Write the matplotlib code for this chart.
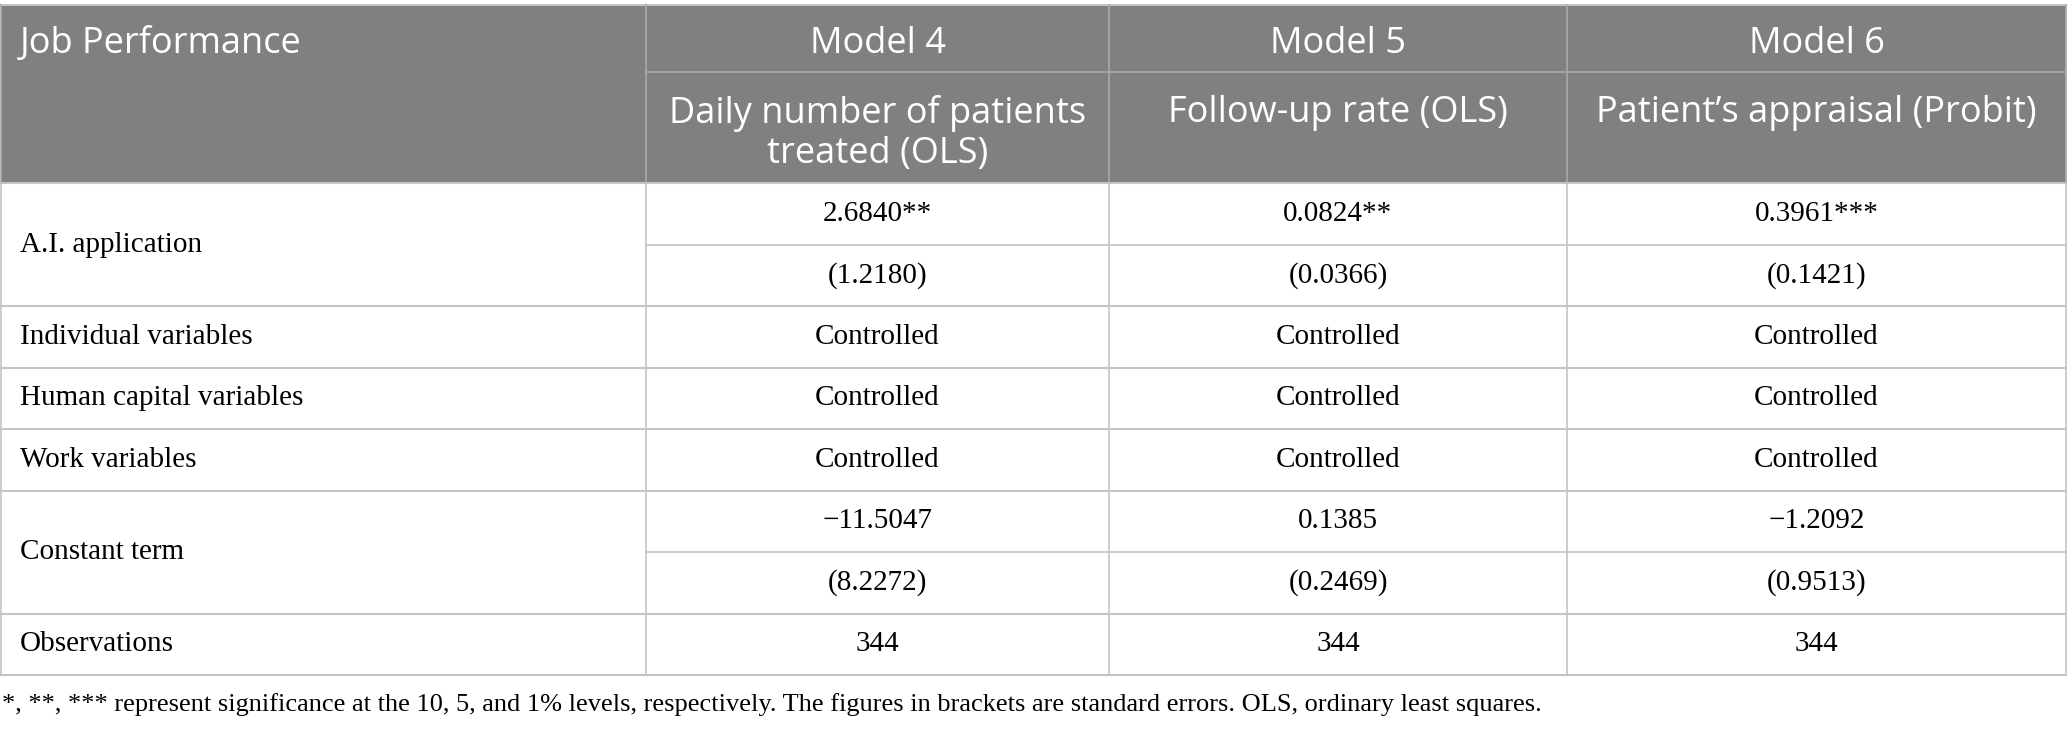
import matplotlib.pyplot as plt

# table content
models = ['Model 4', 'Model 5', 'Model 6']
outcomes = ['Daily number of patients\ntreated (OLS)', 'Follow-up rate (OLS)',
            'Patient\u2019s appraisal (Probit)']
corner = 'Job Performance'
ai_coef = ['2.6840**', '0.0824**', '0.3961***']
ai_se = ['(1.2180)', '(0.0366)', '(0.1421)']
control_rows = ['Individual variables', 'Human capital variables', 'Work variables']
control_val = ['Controlled', 'Controlled', 'Controlled']
const_coef = ['\u221211.5047', '0.1385', '\u22121.2092']
const_se = ['(8.2272)', '(0.2469)', '(0.9513)']
obs = ['344', '344', '344']
note = ('*, **, *** represent significance at the 10, 5, and 1% levels, respectively. '
        'The figures in brackets are standard errors. OLS, ordinary least squares.')

W, H = 2067, 730
fig = plt.figure(figsize=(W / 100, H / 100), dpi=100)
ax = fig.add_axes([0, 0, 1, 1])
ax.set_xlim(0, W)
ax.set_ylim(H, 0)
ax.axis('off')

xs = [1, 646, 1109, 1567, 2066]
top, mid, hbot = 5, 72, 183
rh = 61.5
ys = [hbot + i * rh for i in range(9)]

hdr_bg = '#808080'
grid = '#c4c4c4'
hfont = 'Open Sans'
bfont = 'Liberation Serif'
hsize = 26
bsize = 21

ax.add_patch(plt.Rectangle((xs[0], top), xs[-1] - xs[0], hbot - top,
                           facecolor=hdr_bg, edgecolor='none'))

# header lines
ax.plot([xs[1], xs[-1]], [mid, mid], color='#a9a9a9', lw=1.2)
ax.plot([xs[0], xs[-1]], [top, top], color=grid, lw=1.5)

# body horizontal lines (rows 1 and 6 split merged label cells)
for i, y in enumerate(ys):
    if i in (1, 6):
        ax.plot([xs[1], xs[-1]], [y, y], color=grid, lw=1.2)
    else:
        ax.plot([xs[0], xs[-1]], [y, y], color=grid, lw=1.5)

# vertical lines
for x in xs:
    ax.plot([x, x], [top, hbot], color='#a9a9a9', lw=1.2)
    ax.plot([x, x], [hbot, ys[-1]], color=grid, lw=1.2)

# header text
ax.text(20, 44, corner, color='white', fontsize=hsize, family=hfont, va='center', ha='left')
for j in range(3):
    cx = (xs[j + 1] + xs[j + 2]) / 2
    ax.text(cx, 44, models[j], color='white', fontsize=hsize, family=hfont,
            va='center', ha='center')
    for k, line in enumerate(outcomes[j].split('\n')):
        ax.text(cx, 113 + k * 41, line, color='white', fontsize=hsize, family=hfont,
                va='center', ha='center')

# body text
def row_center(i):
    return (ys[i] + ys[i + 1]) / 2

ax.text(20, ys[1], 'A.I. application', fontsize=bsize, family=bfont, va='center')
ax.text(20, row_center(2), control_rows[0], fontsize=bsize, family=bfont, va='center')
ax.text(20, row_center(3), control_rows[1], fontsize=bsize, family=bfont, va='center')
ax.text(20, row_center(4), control_rows[2], fontsize=bsize, family=bfont, va='center')
ax.text(20, ys[6], 'Constant term', fontsize=bsize, family=bfont, va='center')
ax.text(20, row_center(7), 'Observations', fontsize=bsize, family=bfont, va='center')

rows = [ai_coef, ai_se, control_val, control_val, control_val, const_coef, const_se, obs]
for i, vals in enumerate(rows):
    for j in range(3):
        cx = (xs[j + 1] + xs[j + 2]) / 2
        ax.text(cx, row_center(i), vals[j], fontsize=bsize, family=bfont,
                va='center', ha='center')

ax.text(2, 705, note, fontsize=19, family=bfont, va='center', ha='left')

fig.savefig('out.png', dpi=100)
